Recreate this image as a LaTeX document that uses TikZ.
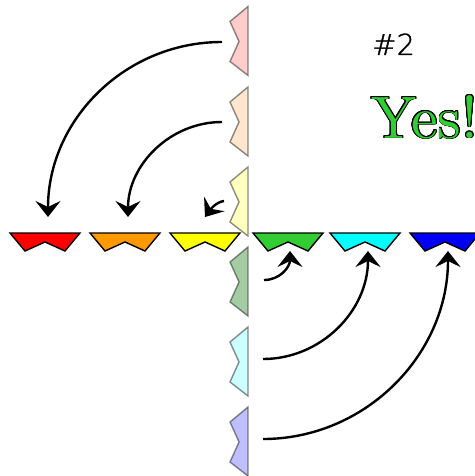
\documentclass[tikz,border=0pt]{standalone}
\usepackage{fontspec}
\usepackage{contour}
\newfontfamily\numfont{DejaVuSans-ExtraLight.ttf}[FakeBold=1.2]
\newfontfamily\yesfont{lmroman10-regular.otf}
\definecolor{pRed}{RGB}{255,0,0}
\definecolor{pOrange}{RGB}{255,153,0}
\definecolor{pYellow}{RGB}{255,255,0}
\definecolor{pGreen}{RGB}{50,205,50}
\definecolor{pCyan}{RGB}{0,255,255}
\definecolor{pBlue}{RGB}{0,0,245}
\definecolor{fRed}{RGB}{255,204,204}
\definecolor{fOrange}{RGB}{255,230,204}
\definecolor{fYellow}{RGB}{255,255,191}
\definecolor{fGreen}{RGB}{163,204,163}
\definecolor{fCyan}{RGB}{204,255,255}
\definecolor{fBlue}{RGB}{191,191,255}
\usetikzlibrary{arrows.meta}
\contourlength{0.9pt}

\begin{document}
\begin{tikzpicture}[x=1pt, y=-1pt,
		hpiece/.style={draw=black, line width=1.4pt, line join=miter},
		vpiece/.style={draw=black, draw opacity=0.45, line width=1.4pt, line join=miter},
		move/.style={line width=2.4pt, -{Stealth[length=16pt, width=25pt, inset=6pt]}}]
		\useasboundingbox (0,0) rectangle (474,476);
		%-------------------------------------------------------------------------------
		% pieces
		%-------------------------------------------------------------------------------
		% sorted row
		\coordinate (h1) at (10,233);
		\coordinate (h2) at (90,233);
		\coordinate (h3) at (170,233);
		\coordinate (h4) at (253,233);
		\coordinate (h5) at (330,233);
		\coordinate (h6) at (410,233);
		% waiting column
		\coordinate (v1) at (248,6.5);
		\coordinate (v2) at (248,87);
		\coordinate (v3) at (248,167);
		\coordinate (v4) at (248,247);
		\coordinate (v5) at (248,327);
		\coordinate (v6) at (248,407);
		
		\draw[vpiece, fill=fRed] (v1) -- ++(0,69) -- ++(-18,-14) -- ++(9,-20) -- ++(-9,-20) -- cycle;
		\draw[vpiece, fill=fOrange] (v2) -- ++(0,69) -- ++(-18,-14) -- ++(9,-20) -- ++(-9,-20) -- cycle;
		\draw[vpiece, fill=fYellow] (v3) -- ++(0,69) -- ++(-18,-14) -- ++(9,-20) -- ++(-9,-20) -- cycle;
		\draw[vpiece, fill=fGreen] (v4) -- ++(0,69) -- ++(-18,-14) -- ++(9,-20) -- ++(-9,-20) -- cycle;
		\draw[vpiece, fill=fCyan] (v5) -- ++(0,69) -- ++(-18,-14) -- ++(9,-20) -- ++(-9,-20) -- cycle;
		\draw[vpiece, fill=fBlue] (v6) -- ++(0,69) -- ++(-18,-14) -- ++(9,-20) -- ++(-9,-20) -- cycle;
		
		\draw[hpiece, fill=pRed] (h1) -- ++(70,0) -- ++(-15,18) -- ++(-20,-9) -- ++(-20,9) -- cycle;
		\draw[hpiece, fill=pOrange] (h2) -- ++(70,0) -- ++(-15,18) -- ++(-20,-9) -- ++(-20,9) -- cycle;
		\draw[hpiece, fill=pYellow] (h3) -- ++(70,0) -- ++(-15,18) -- ++(-20,-9) -- ++(-20,9) -- cycle;
		\draw[hpiece, fill=pGreen] (h4) -- ++(70,0) -- ++(-15,18) -- ++(-20,-9) -- ++(-20,9) -- cycle;
		\draw[hpiece, fill=pCyan] (h5) -- ++(70,0) -- ++(-15,18) -- ++(-20,-9) -- ++(-20,9) -- cycle;
		\draw[hpiece, fill=pBlue] (h6) -- ++(70,0) -- ++(-15,18) -- ++(-20,-9) -- ++(-20,9) -- cycle;
		
		%-------------------------------------------------------------------------------
		% moves
		%-------------------------------------------------------------------------------
		% from the left of the column
		\coordinate (s1) at (222,42);
		\coordinate (s2) at (222,122);
		\coordinate (s3) at (224,201);
		\coordinate (e1) at (48,217);
		\coordinate (e2) at (128,217);
		\coordinate (e3) at (205,217);
		\draw[move] (s1) .. controls +(-97,0) and +(0,-97) .. (e1);
		\draw[move] (s2) .. controls +(-52,0) and +(0,-52) .. (e2);
		\draw[move] (s3) .. controls +(-8,1) and +(5,-7) .. (e3);
		% from the right of the column
		\coordinate (s4) at (264,280);
		\coordinate (s5) at (263,359);
		\coordinate (s6) at (263,439);
		\coordinate (e4) at (290,251);
		\coordinate (e5) at (368,251);
		\coordinate (e6) at (448,251);
		\draw[move] (s4) .. controls +(16,0) and +(0,16) .. (e4);
		\draw[move] (s5) .. controls +(58,0) and +(0,60) .. (e5);
		\draw[move] (s6) .. controls +(102,0) and +(0,104) .. (e6);
		
		% labels
		\node[anchor=base west, inner sep=0pt] (step) at (372,55) {\numfont\fontsize{29}{29}\selectfont \#2};
		\node[anchor=base west, inner sep=0pt] (yes) at (371,138)
			{\yesfont\fontsize{60}{60}\selectfont\textcolor{pGreen}{\contour{black}{Yes!}}};
\end{tikzpicture}
\end{document}
